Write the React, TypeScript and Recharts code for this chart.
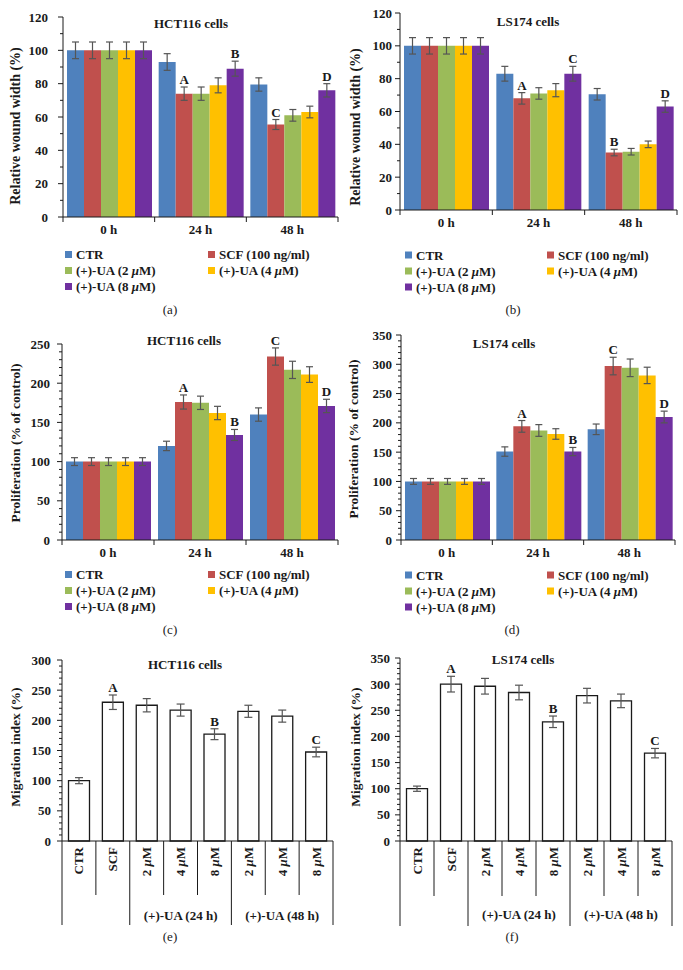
import React from 'react';
import { BarChart, Bar, XAxis, YAxis, ErrorBar, LabelList } from 'recharts';

const FONT = '"Liberation Serif", "Times New Roman", Times, serif';
const INK = '#1a1a1a';
const ERR = '#555555';

// ---------- shared (panels a-d) ----------
const timePoints = ['0 h', '24 h', '48 h'];
const seriesNames = ['CTR', 'SCF (100 ng/ml)', '(+)-UA (2 μM)', '(+)-UA (4 μM)', '(+)-UA (8 μM)'];
const seriesColors = ['#4F81BD', '#C0504D', '#9BBB59', '#FFC000', '#7030A0'];

// (a) HCT116 relative wound width
const woundHctValues = [
  [100, 93, 79.5],
  [100, 74, 55.5],
  [100, 74, 61],
  [100, 79, 63],
  [100, 89, 76],
];
const woundHctErrors = [
  [5, 5, 4],
  [5, 4, 3],
  [5, 4, 3.5],
  [5, 4.5, 3.5],
  [5, 4.5, 4],
];
const woundHctLetters = [['', '', ''], ['', 'A', 'C'], ['', '', ''], ['', '', ''], ['', 'B', 'D']];

// (b) LS174 relative wound width
const woundLsValues = [
  [100, 83, 70.5],
  [100, 68, 35],
  [100, 71, 35.5],
  [100, 73, 40],
  [100, 83, 63],
];
const woundLsErrors = [
  [5, 4.5, 3.5],
  [5, 3.5, 2],
  [5, 3.5, 2],
  [5, 4, 2],
  [5, 4.5, 3.5],
];
const woundLsLetters = [['', '', ''], ['', 'A', 'B'], ['', '', ''], ['', '', ''], ['', 'C', 'D']];

// (c) HCT116 proliferation
const prolHctValues = [
  [100, 120, 160],
  [100, 176, 234],
  [100, 175, 217],
  [100, 162, 211],
  [100, 134, 171],
];
const prolHctErrors = [
  [5, 6, 8.5],
  [5, 9, 11],
  [5, 8.5, 11],
  [5, 8.5, 10],
  [5, 7, 8.5],
];
const prolHctLetters = [['', '', ''], ['', 'A', 'C'], ['', '', ''], ['', '', ''], ['', 'B', 'D']];

// (d) LS174 proliferation
const prolLsValues = [
  [100, 151, 189],
  [100, 194, 297],
  [100, 187, 294],
  [100, 181, 281],
  [100, 151, 210],
];
const prolLsErrors = [
  [5, 8, 9],
  [5, 10, 15],
  [5, 10, 15],
  [5, 9, 14],
  [5, 7, 10],
];
const prolLsLetters = [['', '', ''], ['', 'A', 'C'], ['', '', ''], ['', '', ''], ['', 'B', 'D']];

// ---------- migration (panels e-f) ----------
const migCategories = ['CTR', 'SCF', '2 μM', '4 μM', '8 μM', '2 μM', '4 μM', '8 μM'];
const migGroups = ['', '', '(+)-UA (24 h)', '(+)-UA (24 h)', '(+)-UA (24 h)', '(+)-UA (48 h)', '(+)-UA (48 h)', '(+)-UA (48 h)'];
const migHctValues = [100, 230, 225, 217, 177, 215, 207, 147.5];
const migHctErrors = [5, 12, 11, 10, 9, 10, 10, 8];
const migHctLetters = ['', 'A', '', '', 'B', '', '', 'C'];
const migLsValues = [100, 300, 296, 284, 228, 278, 268, 168];
const migLsErrors = [5, 15, 15, 14, 11, 14, 13, 9];
const migLsLetters = ['', 'A', '', '', 'B', '', '', 'C'];

// ---------- layout ----------
const AXW = 60;
const MT = 12;
const MR = 4;

const layoutA = { plotLeft: 63, plotRight: 338, plotTop: 17, plotBottom: 217, yMax: 120, minor: 10, major: 20, yLabel: 'Relative wound width (%)', yLabelX: 15, yLabelY: 126, yLabelSize: 14, tickGap: 15 };
const layoutB = { plotLeft: 400, plotRight: 677, plotTop: 13, plotBottom: 210, yMax: 120, minor: 10, major: 20, yLabel: 'Relative wound width (%)', yLabelX: 355, yLabelY: 127, yLabelSize: 14, tickGap: 8 };
const layoutC = { plotLeft: 62, plotRight: 338, plotTop: 344, plotBottom: 540, yMax: 250, minor: 10, major: 50, yLabel: 'Proliferation (% of control)', yLabelX: 15, yLabelY: 443, yLabelSize: 13.5, tickGap: 12 };
const layoutD = { plotLeft: 401, plotRight: 675, plotTop: 335, plotBottom: 540, yMax: 350, minor: 10, major: 50, yLabel: 'Proliferation (% of control)', yLabelX: 353, yLabelY: 439, yLabelSize: 13.5, tickGap: 9 };
const layoutE = { plotLeft: 62, plotRight: 333, plotTop: 660, plotBottom: 841, yMax: 300, minor: 10, major: 50, yLabel: 'Migration index (%)', yLabelX: 15, yLabelY: 747, yLabelSize: 13.5, tickGap: 11, shortLen: 54, longLen: 84, groupDy: 79 };
const layoutF = { plotLeft: 400, plotRight: 672, plotTop: 658, plotBottom: 841, yMax: 350, minor: 10, major: 50, yLabel: 'Migration index (%)', yLabelX: 355, yLabelY: 747, yLabelSize: 13.5, tickGap: 10, shortLen: 55, longLen: 85, groupDy: 78 };

const titles = [
  { text: 'HCT116 cells', x: 191, y: 28 },
  { text: 'LS174 cells', x: 528, y: 26 },
  { text: 'HCT116 cells', x: 184, y: 345 },
  { text: 'LS174 cells', x: 504, y: 348 },
  { text: 'HCT116 cells', x: 185, y: 669 },
  { text: 'LS174 cells', x: 523, y: 664 },
];
const captions = [
  { text: '(a)', x: 170, y: 314 },
  { text: '(b)', x: 513, y: 314 },
  { text: '(c)', x: 170, y: 634 },
  { text: '(d)', x: 512, y: 634 },
  { text: '(e)', x: 170, y: 941 },
  { text: '(f)', x: 512, y: 941 },
];
const legends = [
  { x1: 65, x2: 208, y0: 254.5 },
  { x1: 405, x2: 547, y0: 255 },
  { x1: 65, x2: 208, y0: 574.5 },
  { x1: 405, x2: 547, y0: 575 },
];

function withMu(str: string) {
  const parts = str.split('μ');
  if (parts.length === 1) return str;
  return (
    <>
      {parts[0]}
      <tspan fontStyle="italic">μ</tspan>
      {parts[1]}
    </>
  );
}

function tickList(max: number, step: number) {
  const t: number[] = [];
  for (let v = 0; v <= max + 1e-9; v += step) t.push(v);
  return t;
}

function makeYTick(major: number, gap: number) {
  return (p: any) => {
    const v = p.payload.value;
    const isMajor = Math.abs(v % major) < 1e-6;
    return (
      <g>
        <line x1={AXW - (isMajor ? 5 : 3)} x2={AXW} y1={p.y} y2={p.y} stroke={INK} strokeWidth={1} />
        {isMajor && (
          <text x={AXW - gap} y={p.y} dy="0.35em" textAnchor="end" fontFamily={FONT} fontWeight="bold" fontSize={13} fill={INK}>
            {v}
          </text>
        )}
      </g>
    );
  };
}

function makeYLabel(L: any) {
  const chartLeft = L.plotLeft - AXW;
  const chartTop = L.plotTop - MT;
  const cx = L.yLabelX - chartLeft;
  const cy = L.yLabelY - chartTop;
  return () => (
    <text
      transform={`translate(${cx},${cy}) rotate(-90)`}
      textAnchor="middle"
      dy="0.35em"
      fontFamily={FONT}
      fontWeight="bold"
      fontSize={L.yLabelSize}
      fill={INK}
    >
      {L.yLabel}
    </text>
  );
}

function makeLetter(vals: number[], errs: number[]) {
  return (p: any) => {
    const txt = p.value;
    if (!txt) return null;
    const vb = p.viewBox || p;
    const idx = p.index;
    const x = vb.x + vb.width / 2;
    const pxPerUnit = vb.height / vals[idx];
    const top = vb.y - errs[idx] * pxPerUnit;
    return (
      <text x={x} y={top - 3} textAnchor="middle" fontFamily={FONT} fontWeight="bold" fontSize={13} fill={INK}>
        {txt}
      </text>
    );
  };
}

function makeTimeTick(axisY: number, half: number, n: number) {
  return (p: any) => (
    <g>
      <line x1={p.x - half} x2={p.x - half} y1={axisY} y2={axisY + 5} stroke={INK} strokeWidth={1} />
      {p.index === n - 1 && <line x1={p.x + half} x2={p.x + half} y1={axisY} y2={axisY + 5} stroke={INK} strokeWidth={1} />}
      <text x={p.x} y={axisY + 17} textAnchor="middle" fontFamily={FONT} fontWeight="bold" fontSize={13} fill={INK}>
        {p.payload.value}
      </text>
    </g>
  );
}

function GroupedPanel({ L, values, errors, letters }: any) {
  const rows = timePoints.map((t, i) => {
    const r: any = { name: t };
    values.forEach((arr: number[], s: number) => {
      r['s' + s] = arr[i];
      r['e' + s] = errors[s][i];
      r['l' + s] = letters[s][i];
    });
    return r;
  });
  const XH = 30;
  const plotW = L.plotRight - L.plotLeft;
  const plotH = L.plotBottom - L.plotTop;
  const width = plotW + AXW + MR;
  const height = plotH + MT + XH;
  const half = plotW / timePoints.length / 2;
  return (
    <div style={{ position: 'absolute', left: L.plotLeft - AXW, top: L.plotTop - MT }}>
      <BarChart width={width} height={height} data={rows} margin={{ top: MT, right: MR, left: 0, bottom: 0 }} barGap={0} barCategoryGap={4}>
        <XAxis
          dataKey="name"
          height={XH}
          axisLine={{ stroke: INK, strokeWidth: 1 }}
          tickLine={false}
          tickSize={0}
          tickMargin={0}
          interval={0}
          tick={makeTimeTick(MT + plotH, half, timePoints.length)}
        />
        <YAxis
          width={AXW}
          domain={[0, L.yMax]}
          ticks={tickList(L.yMax, L.minor)}
          interval={0}
          allowDecimals={false}
          axisLine={{ stroke: INK, strokeWidth: 1 }}
          tickLine={false}
          tick={makeYTick(L.major, L.tickGap)}
          label={makeYLabel(L)}
        />
        {seriesNames.map((name, s) => (
          <Bar key={name} dataKey={'s' + s} name={name} fill={seriesColors[s]} isAnimationActive={false}>
            <ErrorBar dataKey={'e' + s} width={3.5} stroke={ERR} strokeWidth={1.2} direction="y" isAnimationActive={false} />
            <LabelList dataKey={'l' + s} content={makeLetter(values[s], errors[s])} />
          </Bar>
        ))}
      </BarChart>
    </div>
  );
}

function makeMigTick(axisY: number, half: number, shortLen: number, longLen: number, groupDy: number) {
  const n = migCategories.length;
  const isLong = (b: number) => b === 0 || b === n || migGroups[b - 1] !== migGroups[b];
  const isGroupMiddle = (i: number) => {
    const g = migGroups[i];
    if (!g) return false;
    let a = i;
    while (a > 0 && migGroups[a - 1] === g) a--;
    let b = i;
    while (b < n - 1 && migGroups[b + 1] === g) b++;
    return i === Math.floor((a + b) / 2);
  };
  return (p: any) => {
    const i = p.index;
    const x = p.x;
    const lenL = isLong(i) ? longLen : shortLen;
    const lenR = isLong(i + 1) ? longLen : shortLen;
    return (
      <g>
        <line x1={x - half} x2={x - half} y1={axisY} y2={axisY + lenL} stroke={INK} strokeWidth={1} />
        {i === n - 1 && <line x1={x + half} x2={x + half} y1={axisY} y2={axisY + lenR} stroke={INK} strokeWidth={1} />}
        <text
          transform={`translate(${x + 4.5},${axisY + 6}) rotate(-90)`}
          textAnchor="end"
          fontFamily={FONT}
          fontWeight="bold"
          fontSize={13}
          fill={INK}
        >
          {withMu(migCategories[i])}
        </text>
        {isGroupMiddle(i) && (
          <text x={x} y={axisY + groupDy} textAnchor="middle" fontFamily={FONT} fontWeight="bold" fontSize={13} fill={INK}>
            {migGroups[i]}
          </text>
        )}
      </g>
    );
  };
}

function MigrationPanel({ L, values, errors, letters }: any) {
  const rows = migCategories.map((c, i) => ({ id: i, v: values[i], e: errors[i], l: letters[i] }));
  const XH = 95;
  const plotW = L.plotRight - L.plotLeft;
  const plotH = L.plotBottom - L.plotTop;
  const width = plotW + AXW + MR;
  const height = plotH + MT + XH;
  const half = plotW / migCategories.length / 2;
  return (
    <div style={{ position: 'absolute', left: L.plotLeft - AXW, top: L.plotTop - MT }}>
      <BarChart width={width} height={height} data={rows} margin={{ top: MT, right: MR, left: 0, bottom: 0 }} barGap={0} barCategoryGap={6.5}>
        <XAxis
          dataKey="id"
          height={XH}
          axisLine={{ stroke: INK, strokeWidth: 1 }}
          tickLine={false}
          tickSize={0}
          tickMargin={0}
          interval={0}
          tick={makeMigTick(MT + plotH, half, L.shortLen, L.longLen, L.groupDy)}
        />
        <YAxis
          width={AXW}
          domain={[0, L.yMax]}
          ticks={tickList(L.yMax, L.minor)}
          interval={0}
          axisLine={{ stroke: INK, strokeWidth: 1 }}
          tickLine={false}
          tick={makeYTick(L.major, L.tickGap)}
          label={makeYLabel(L)}
        />
        <Bar dataKey="v" fill="#ffffff" stroke={INK} strokeWidth={1.3} isAnimationActive={false}>
          <ErrorBar dataKey="e" width={4} stroke={ERR} strokeWidth={1.2} direction="y" isAnimationActive={false} />
          <LabelList dataKey="l" content={makeLetter(values, errors)} />
        </Bar>
      </BarChart>
    </div>
  );
}

function Overlay() {
  return (
    <svg width={683} height={970} style={{ position: 'absolute', left: 0, top: 0, pointerEvents: 'none' }}>
      {titles.map((t, i) => (
        <text key={'t' + i} x={t.x} y={t.y} textAnchor="middle" fontFamily={FONT} fontWeight="bold" fontSize={13} fill={INK}>
          {t.text}
        </text>
      ))}
      {captions.map((c, i) => (
        <text key={'c' + i} x={c.x} y={c.y} textAnchor="middle" fontFamily={FONT} fontSize={13} fill={INK}>
          {c.text}
        </text>
      ))}
      {legends.map((lg, li) =>
        seriesNames.map((name, i) => {
          const col = i % 2;
          const row = Math.floor(i / 2);
          const x = col === 0 ? lg.x1 : lg.x2;
          const y = lg.y0 + row * 16;
          return (
            <g key={'l' + li + '-' + i}>
              <rect x={x} y={y - 3.5} width={7} height={7} fill={seriesColors[i]} />
              <text x={x + 11} y={y} dy="0.35em" fontFamily={FONT} fontWeight="bold" fontSize={13} fill={INK}>
                {withMu(name)}
              </text>
            </g>
          );
        })
      )}
    </svg>
  );
}

export default function App() {
  return (
    <div style={{ position: 'absolute', left: 0, top: 0, width: 683, height: 970, background: '#ffffff', overflow: 'hidden' }}>
      <GroupedPanel L={layoutA} values={woundHctValues} errors={woundHctErrors} letters={woundHctLetters} />
      <GroupedPanel L={layoutB} values={woundLsValues} errors={woundLsErrors} letters={woundLsLetters} />
      <GroupedPanel L={layoutC} values={prolHctValues} errors={prolHctErrors} letters={prolHctLetters} />
      <GroupedPanel L={layoutD} values={prolLsValues} errors={prolLsErrors} letters={prolLsLetters} />
      <MigrationPanel L={layoutE} values={migHctValues} errors={migHctErrors} letters={migHctLetters} />
      <MigrationPanel L={layoutF} values={migLsValues} errors={migLsErrors} letters={migLsLetters} />
      <Overlay />
    </div>
  );
}
